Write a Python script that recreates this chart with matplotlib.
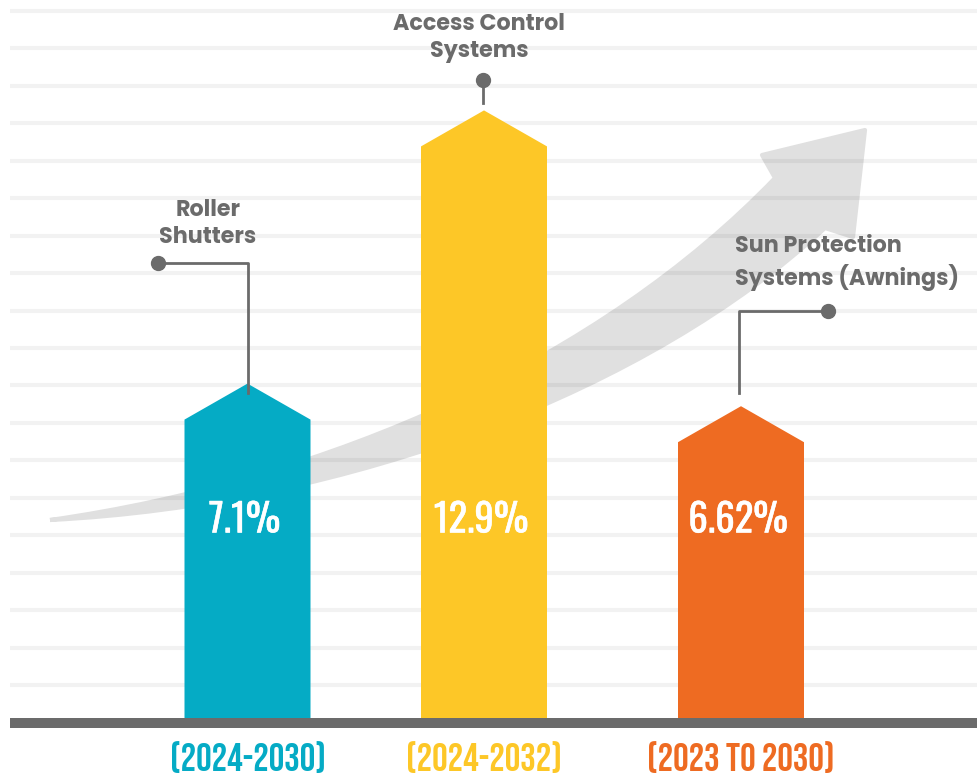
import numpy as np
import matplotlib.pyplot as plt
import matplotlib.patheffects as pe
from matplotlib.path import Path
from matplotlib.patches import PathPatch

categories = ["Roller\nShutters", "Access Control\nSystems", "Sun Protection\nSystems (Awnings)"]
cagr = [7.1, 12.9, 6.62]
periods = ["(2024-2030)", "(2024-2032)", "(2023 TO 2030)"]
colors = ["#05abc5", "#fdc727", "#ee6b22"]

GRAY = "#6b6b6b"
VALUE_FONT = ["Oswald", "Roboto Condensed", "DejaVu Sans"]
PERIOD_FONT = ["Bebas Neue", "Oswald", "DejaVu Sans"]
LABEL_FONT = ["Poppins", "Open Sans", "DejaVu Sans"]

# layout in pixels (x axis runs in pixels, y axis in % units)
W, H = 977, 777
BASE = 718          # pixel row of the zero line
PX_PER_UNIT = 47.1
bar_x = [247.5, 484, 741]
bar_w = 126
shoulder = 36 / PX_PER_UNIT


def Y(p):
    return (BASE - p) / PX_PER_UNIT


fig = plt.figure(figsize=(W / 100, H / 100), dpi=100)
ax = fig.add_axes([0, 0, 1, 1])
ax.set_xlim(0, W)
ax.set_ylim(Y(H), Y(0))
ax.axis("off")

# curved background arrow
upper = [(50, 520), (330, 480), (600, 360), (775, 178)]
head = [(762, 155), (865, 130), (853, 237), (825, 228)]
lower = [(650, 390), (350, 505), (50, 520)]
verts = upper + head + lower
codes = ([Path.MOVETO] + [Path.CURVE4] * 3 + [Path.LINETO] * 4 + [Path.CURVE4] * 3)
verts = [(x, Y(y)) for x, y in verts]
ax.add_patch(PathPatch(Path(verts, codes), facecolor="#e0e0e0", edgecolor="#e0e0e0",
                       lw=3, joinstyle="round", zorder=1))

# background stripes
for k in range(19):
    ax.plot([10, W], [Y(11 + 37.45 * k)] * 2, color="k", alpha=0.05, lw=3, zorder=2,
            solid_capstyle="butt")
ax.fill_between([10, W], Y(718), Y(728), color=GRAY, lw=0, zorder=4)

# arrow-shaped bars
for x, v, c in zip(bar_x, cagr, colors):
    l, r = x - bar_w / 2, x + bar_w / 2
    ax.fill([l, l, x, r, r], [0, v - shoulder, v, v - shoulder, 0], color=c, lw=0, zorder=3)
    ax.text(x - 3, Y(520), f"{v:g}%", color="white", fontsize=28, family=VALUE_FONT,
            ha="center", va="center", zorder=5,
            path_effects=[pe.withStroke(linewidth=0.35, foreground="white")])

for x, p, c in zip(bar_x, periods, colors):
    ax.text(x, Y(757), p, color=c, fontsize=28, family=PERIOD_FONT,
            ha="center", va="center")

# callouts
lkw = dict(color=GRAY, lw=2, zorder=5)
ax.plot([158, 248, 248], [Y(263), Y(263), Y(393)], **lkw)
ax.plot([158], [Y(263)], "o", color=GRAY, ms=10, zorder=6)
ax.plot([483, 483], [Y(80), Y(103)], **lkw)
ax.plot([483], [Y(80)], "o", color=GRAY, ms=10, zorder=6)
ax.plot([739, 739, 828], [Y(393), Y(311), Y(311)], **lkw)
ax.plot([828], [Y(311)], "o", color=GRAY, ms=10, zorder=6)

tkw = dict(color=GRAY, fontsize=16, fontweight="bold", family=LABEL_FONT,
           linespacing=1.25, zorder=6)
ax.text(208, Y(224), categories[0], ha="center", va="center", **tkw)
ax.text(479, Y(38), categories[1], ha="center", va="center", **tkw)
ax.text(735, Y(263), categories[2], ha="left", va="center", **tkw)

plt.savefig("out.png", dpi=100, facecolor="white")
